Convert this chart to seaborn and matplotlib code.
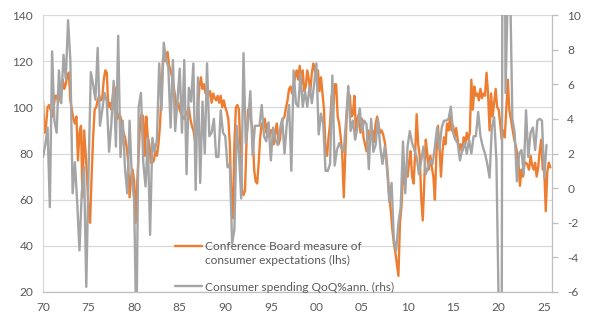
import numpy as np
import pandas as pd
import matplotlib
matplotlib.use("Agg")
import matplotlib.pyplot as plt
from matplotlib.lines import Line2D
import seaborn as sns

# Conference Board expectations index, bi-monthly from Jan 1970 (lhs)
conf_board = [
    103, 89, 92, 100, 101, 99,
    96, 100, 105, 105, 102, 106,
    107, 112, 108, 110, 114, 115,
    103, 99, 95, 93, 96, 77,
    89, 92, 61, 90, 81, 70,
    55, 50, 70, 87, 99, 100,
    103, 105, 103, 104, 112, 116,
    115, 100, 102, 99, 105, 109,
    105, 95, 97, 96, 92, 89,
    87, 83, 77, 61, 70, 73,
    68, 50, 67, 80, 95, 97,
    96, 79, 96, 87, 84, 76,
    76, 77, 81, 79, 84, 92,
    107, 121, 120, 122, 124, 118,
    116, 113, 109, 105, 99, 102,
    99, 97, 96, 95, 97, 98,
    100, 95, 92, 90, 86, 93,
    100, 109, 113, 108, 110, 106,
    107, 105, 107, 102, 106, 104,
    103, 105, 102, 105, 100, 103,
    100, 98, 95, 84, 61, 52,
    84, 100, 101, 99, 81, 64,
    62, 64, 85, 99, 98, 94,
    90, 73, 68, 67, 76, 87,
    93, 91, 95, 89, 93, 87,
    90, 90, 84, 90, 93, 84,
    86, 93, 95, 96, 100, 103,
    108, 109, 106, 110, 113, 116,
    112, 118, 110, 116, 107, 109,
    116, 112, 107, 115, 119, 116,
    112, 116, 107, 113, 106, 99,
    81, 79, 87, 93, 105, 97,
    110, 110, 96, 93, 87, 80,
    61, 80, 97, 106, 105, 96,
    97, 105, 90, 95, 97, 89,
    95, 87, 84, 81, 90, 86,
    88, 90, 85, 93, 96, 92,
    89, 90, 88, 85, 79, 71,
    61, 55, 47, 41, 37, 32,
    27, 50, 57, 71, 67, 73,
    70, 76, 81, 70, 67, 80,
    97, 84, 79, 61, 51, 67,
    86, 80, 73, 79, 74, 70,
    60, 80, 92, 83, 70, 81,
    87, 84, 93, 90, 96, 90,
    92, 87, 91, 86, 81, 84,
    81, 87, 84, 89, 86, 89,
    112, 99, 109, 105, 106, 103,
    108, 104, 106, 105, 115, 106,
    90, 106, 96, 102, 108, 100,
    99, 93, 86, 90, 87, 99,
    112, 99, 95, 91, 87, 84,
    81, 76, 66, 73, 70, 76,
    76, 75, 73, 79, 75, 73,
    76, 70, 74, 81, 86, 73,
    73, 55, 72, 76, 74,
]

# Real consumer spending, QoQ % annualised, quarterly from 1970Q1 (rhs)
spending = [
    1.8, 2.5, 3.5, -1.1,
    7.9, 3.9, 3.2, 6.8,
    4.9, 7.7, 6.3, 9.7,
    7.4, -0.3, 1.5, -0.8,
    -3.6, -0.3, 1.2, -5.7,
    1.0, 6.7, 6.0, 5.1,
    8.1, 3.6, 4.5, 5.5,
    5.0, 2.1, 3.7, 6.2,
    2.4, 8.8, 1.8, 3.9,
    1.1, -0.3, 3.9, 0.6,
    -0.7, -8.6, 4.7, 5.5,
    1.5, 0.1, 2.9, -2.7,
    2.9, 2.1, 2.8, 7.2,
    4.5, 8.4, 7.4, 7.0,
    3.5, 7.4, 3.3, 5.0,
    6.9, 3.2, 7.4, 0.8,
    5.8, 5.0, 7.2, -0.1,
    6.4, 0.3, 5.0, 2.0,
    7.2, 3.0, 3.2, 4.0,
    1.8, 1.8, 4.5, 3.2,
    3.0, 1.2, 1.4, -3.2,
    -2.4, 3.6, 2.0, -0.6,
    7.8, 2.6, 3.8, 5.6,
    1.9, 3.6, 3.6, 3.6,
    4.8, 3.0, 2.7, 3.8,
    1.6, 3.5, 2.8, 2.5,
    3.4, 4.0, 2.0, 3.7,
    4.8, 1.0, 6.8, 4.9,
    4.7, 6.6, 4.7, 5.6,
    4.7, 5.9, 4.9, 6.0,
    7.2, 3.1, 4.3, 3.7,
    1.0, 1.0, 1.4, 6.5,
    1.3, 2.2, 2.6, 2.3,
    2.1, 3.9, 5.9, 3.3,
    3.9, 2.8, 3.5, 4.6,
    3.3, 3.9, 3.7, 1.1,
    4.0, 2.1, 2.5, 4.0,
    2.4, 1.4, 2.4, 1.1,
    -0.8, 0.3, -3.0, -3.6,
    -2.0, -1.1, 2.7, -0.3,
    2.4, 3.3, 2.6, 2.2,
    1.8, 0.8, 1.6, 2.4,
    0.8, 1.2, 1.6, 1.4,
    2.4, 3.5, 2.2, 3.5,
    3.9, 3.9, 4.0, 4.7,
    3.2, 2.8, 2.6, 1.6,
    2.2, 2.6, 2.0, 2.8,
    2.0, 3.0, 3.0, 4.4,
    3.0, 2.4, 2.0, 1.4,
    0.6, 3.5, 4.1, 1.6,
    -6.9, -33.0, 41.0, 5.5,
    11.4, 12.0, 4.0, 3.2,
    0.4, 2.0, 2.2, 0.8,
    4.5, 1.8, 3.2, 3.5,
    2.2, 3.9, 4.0, 3.9,
    0.6, 2.5,
]

x_ticks = list(range(1970, 2026, 5))
x_labels = [f"{y % 100:02d}" for y in x_ticks]
left_ticks = [20, 40, 60, 80, 100, 120, 140]
right_ticks = [-6, -4, -2, 0, 2, 4, 6, 8, 10]
label_cb = ["Conference Board measure of", "consumer expectations (lhs)"]
label_cs = "Consumer spending QoQ%ann. (rhs)"

sns.set_style("white")
plt.rcParams['font.family'] = ['Lato', 'DejaVu Sans']
plt.rcParams['axes.unicode_minus'] = False

ORANGE = '#ED7D31'
GREY = '#A5A5A5'
TXT = '#595959'
AX = '#BFBFBF'
GRID = '#D9D9D9'

df_o = pd.DataFrame({'t': 1970 + np.arange(len(conf_board)) / 6.0, 'v': conf_board})
df_g = pd.DataFrame({'t': 1970 + np.arange(len(spending)) / 4.0, 'v': spending})

W, H = 599, 326
fig = plt.figure(figsize=(W / 100, H / 100), dpi=100)
L, R, T, B = 43, 552, 15, 292
ax = fig.add_axes([L / W, 1 - B / H, (R - L) / W, (B - T) / H])
ax2 = ax.twinx()

sns.lineplot(data=df_o, x='t', y='v', ax=ax, color=ORANGE, lw=1.7, legend=False)
sns.lineplot(data=df_g, x='t', y='v', ax=ax2, color=GREY, lw=1.7, legend=False)

ax.set_xlim(1970, 2025.85)
ax.set_ylim(20, 140)
ax2.set_ylim(-6, 10)
ax.set_xticks(x_ticks)
ax.set_xticklabels(x_labels)
ax.set_yticks(left_ticks)
ax2.set_yticks(right_ticks)
ax.set_xlabel('')
ax.set_ylabel('')
ax2.set_ylabel('')

ax.yaxis.grid(True, color=GRID, lw=0.9)
ax.xaxis.grid(False)
ax.set_axisbelow(True)

for a in (ax, ax2):
    for s in a.spines.values():
        s.set_visible(False)
ax.spines['bottom'].set_visible(True)
ax.spines['bottom'].set_color(AX)
ax.spines['bottom'].set_linewidth(0.9)
ax.spines['left'].set_visible(True)
ax.spines['left'].set_color(GRID)
ax.spines['left'].set_linewidth(0.9)
ax2.spines['right'].set_visible(True)
ax2.spines['right'].set_color(AX)
ax2.spines['right'].set_linewidth(0.9)

FS = 8.6
ax.tick_params(axis='y', length=0, pad=7, labelsize=FS, labelcolor=TXT)
ax.tick_params(axis='x', length=4, width=0.9, color=AX, direction='out', pad=3,
               labelsize=FS, labelcolor=TXT)
ax2.tick_params(axis='y', length=4, width=0.9, color=AX, direction='out', pad=7,
                labelsize=FS, labelcolor=TXT)

h1 = ax.get_lines()[0]
h2 = ax2.get_lines()[0]
blank = Line2D([], [], color='none')
leg_kw = dict(frameon=False, fontsize=FS, handlelength=2.3, handletextpad=0.2,
              borderpad=0, borderaxespad=0, labelcolor=TXT)
fig.legend([h1, blank], label_cb, loc='center left',
           bbox_to_anchor=(175 / W, 1 - 253.5 / H), labelspacing=0.3, **leg_kw)
fig.legend([h2], [label_cs], loc='center left',
           bbox_to_anchor=(175 / W, 1 - 287 / H), **leg_kw)

fig.savefig('out.png', dpi=100)
